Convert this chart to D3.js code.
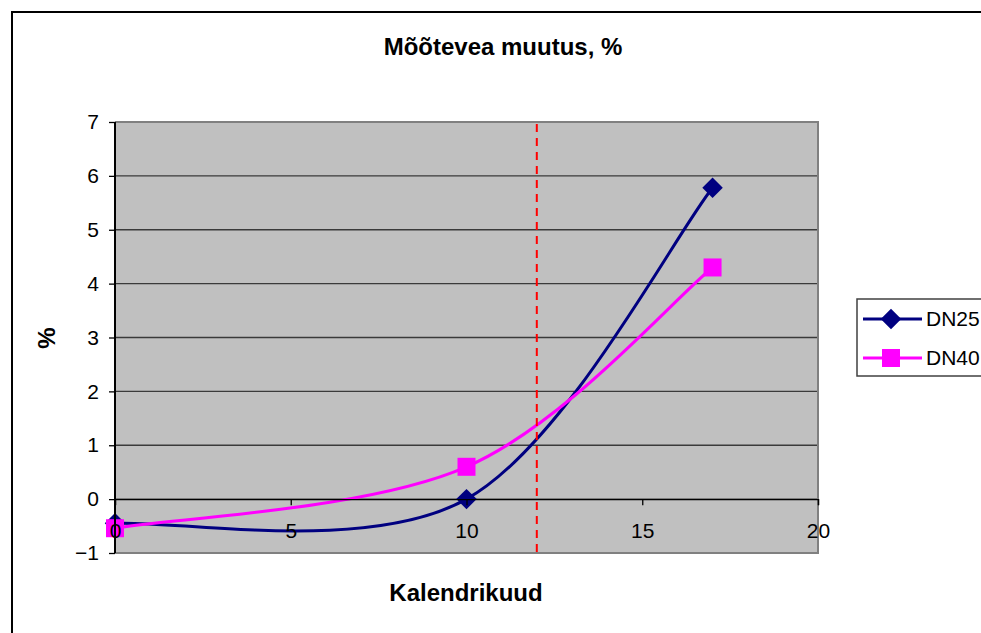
<!DOCTYPE html>
<html>
<head>
<meta charset="utf-8">
<script src="https://cdn.jsdelivr.net/npm/d3@7"></script>
<style>
  html, body { margin: 0; padding: 0; background: #fff; }
  svg { display: block; }
  text { font-family: "Liberation Sans", Arial, sans-serif; fill: #000; }
</style>
</head>
<body>
<svg id="chart" width="981" height="633"></svg>
<script>
// ---- data ----
const titleText = "Mõõtevea muutus, %";
const xTitle = "Kalendrikuud";
const yTitle = "%";
const dn25X = [0, 10, 17];
const dn25Y = [-0.45, 0, 5.78];
const dn40X = [0, 10, 17];
const dn40Y = [-0.54, 0.6, 4.3];
const seriesNames = ["DN25", "DN40"];
const xTicks = [0, 5, 10, 15, 20];
const yTicks = [-1, 0, 1, 2, 3, 4, 5, 6, 7];
const markerLineX = 12;

(function () {
const svg = d3.select("#chart");
const pL = 115, pR = 818, pT = 122, pB = 553;

const x = d3.scaleLinear().domain([0, 20]).range([pL, pR]);
const y = d3.scaleLinear().domain([-1, 7]).range([pB, pT]);

// Excel-style smoothed line: Bezier segments with control points P_i ± (P_{i+1}-P_{i-1})/6,
// endpoints duplicated.
function excelSmooth(pts) {
  const p = d3.path();
  const n = pts.length;
  p.moveTo(pts[0][0], pts[0][1]);
  for (let i = 0; i < n - 1; i++) {
    const p0 = pts[Math.max(i - 1, 0)], p1 = pts[i], p2 = pts[i + 1], p3 = pts[Math.min(i + 2, n - 1)];
    const c1x = p1[0] + (p2[0] - p0[0]) / 6, c1y = p1[1] + (p2[1] - p0[1]) / 6;
    const c2x = p2[0] - (p3[0] - p1[0]) / 6, c2y = p2[1] - (p3[1] - p1[1]) / 6;
    p.bezierCurveTo(c1x, c1y, c2x, c2y, p2[0], p2[1]);
  }
  return p.toString();
}

// outer chart border
svg.append("rect").attr("x", 12).attr("y", 12).attr("width", 990).attr("height", 640)
  .attr("fill", "#fff").attr("stroke", "#000").attr("stroke-width", 2);

// plot area
svg.append("rect").attr("x", pL).attr("y", pT).attr("width", pR - pL).attr("height", pB - pT)
  .attr("fill", "#c0c0c0");

// gridlines
svg.append("g").selectAll("line").data(yTicks.filter(d => d > -1 && d < 7)).join("line")
  .attr("x1", pL).attr("x2", pR)
  .attr("y1", d => y(d)).attr("y2", d => y(d))
  .attr("stroke", "#3a3a3a").attr("stroke-width", 1.3);

// plot border (top, right, bottom)
svg.append("path")
  .attr("d", `M${pL},${pT}H${pR}V${pB}H${pL}`)
  .attr("fill", "none").attr("stroke", "#808080").attr("stroke-width", 2);

// x axis at y=0
const xAxis = d3.axisBottom(x).tickValues(xTicks).tickSize(6).tickPadding(18).tickFormat(d3.format("d"));
const gx = svg.append("g").attr("transform", `translate(0,${y(0)})`).call(xAxis);
gx.select(".domain").attr("stroke", "#000").attr("stroke-width", 1.3);
gx.selectAll(".tick line").attr("stroke", "#000").attr("stroke-width", 1.3);
gx.selectAll(".tick text").attr("font-size", 21).attr("font-family", "Liberation Sans, Arial, sans-serif").attr("fill", "#000");

// y axis
const yAxis = d3.axisLeft(y).tickValues(yTicks).tickSize(6).tickPadding(10).tickFormat(d3.format("d"));
const gy = svg.append("g").attr("transform", `translate(${pL},0)`).call(yAxis);
gy.select(".domain").attr("stroke", "#000").attr("stroke-width", 2).attr("d", `M0,${pT}V${pB}`);
gy.selectAll(".tick line").attr("stroke", "#000").attr("stroke-width", 1.3);
gy.selectAll(".tick text").attr("font-size", 21).attr("font-family", "Liberation Sans, Arial, sans-serif").attr("fill", "#000");

// series
const dn25 = dn25X.map((v, i) => [x(v), y(dn25Y[i])]);
const dn40 = dn40X.map((v, i) => [x(v), y(dn40Y[i])]);

const seriesG = svg.append("g");
seriesG.append("path").attr("d", excelSmooth(dn25)).attr("fill", "none")
  .attr("stroke", "#000080").attr("stroke-width", 3);
const diamond = d3.symbol().type(d3.symbolSquare).size(210);
seriesG.selectAll(".d25").data(dn25).join("path")
  .attr("d", diamond)
  .attr("transform", d => `translate(${d[0]},${d[1]}) rotate(45)`)
  .attr("fill", "#000080");

seriesG.append("path").attr("d", excelSmooth(dn40)).attr("fill", "none")
  .attr("stroke", "#ff00ff").attr("stroke-width", 3);
seriesG.selectAll(".d40").data(dn40).join("rect")
  .attr("x", d => d[0] - 9).attr("y", d => d[1] - 9)
  .attr("width", 18).attr("height", 18).attr("fill", "#ff00ff");

// red dashed vertical line
svg.append("line")
  .attr("x1", x(markerLineX)).attr("x2", x(markerLineX))
  .attr("y1", pT + 2).attr("y2", pB)
  .attr("stroke", "#ff0000").attr("stroke-width", 2).attr("stroke-dasharray", "8,6");

// bring tick labels to front
gx.raise();
gy.raise();

// titles
svg.append("text").attr("x", 503).attr("y", 55).attr("text-anchor", "middle")
  .attr("font-size", 24).attr("font-weight", "bold").text(titleText);
svg.append("text").attr("x", 466).attr("y", 601).attr("text-anchor", "middle")
  .attr("font-size", 24).attr("font-weight", "bold").text(xTitle);
svg.append("text").attr("transform", "translate(55,338) rotate(-90)").attr("text-anchor", "middle")
  .attr("font-size", 24).attr("font-weight", "bold").text(yTitle);

// legend
const lg = svg.append("g");
lg.append("rect").attr("x", 857).attr("y", 299).attr("width", 160).attr("height", 77)
  .attr("fill", "#fff").attr("stroke", "#404040").attr("stroke-width", 1.5);
const legendRows = [
  { name: seriesNames[0], color: "#000080", shape: "diamond", yy: 319 },
  { name: seriesNames[1], color: "#ff00ff", shape: "square", yy: 358 }
];
legendRows.forEach(r => {
  lg.append("line").attr("x1", 863).attr("x2", 922).attr("y1", r.yy).attr("y2", r.yy)
    .attr("stroke", r.color).attr("stroke-width", 3);
  if (r.shape === "diamond") {
    lg.append("path").attr("d", diamond).attr("transform", `translate(891,${r.yy}) rotate(45)`).attr("fill", r.color);
  } else {
    lg.append("rect").attr("x", 882).attr("y", r.yy - 9).attr("width", 18).attr("height", 18).attr("fill", r.color);
  }
  lg.append("text").attr("x", 926).attr("y", r.yy + 7).attr("font-size", 21).text(r.name);
});
})();
</script>
</body>
</html>
